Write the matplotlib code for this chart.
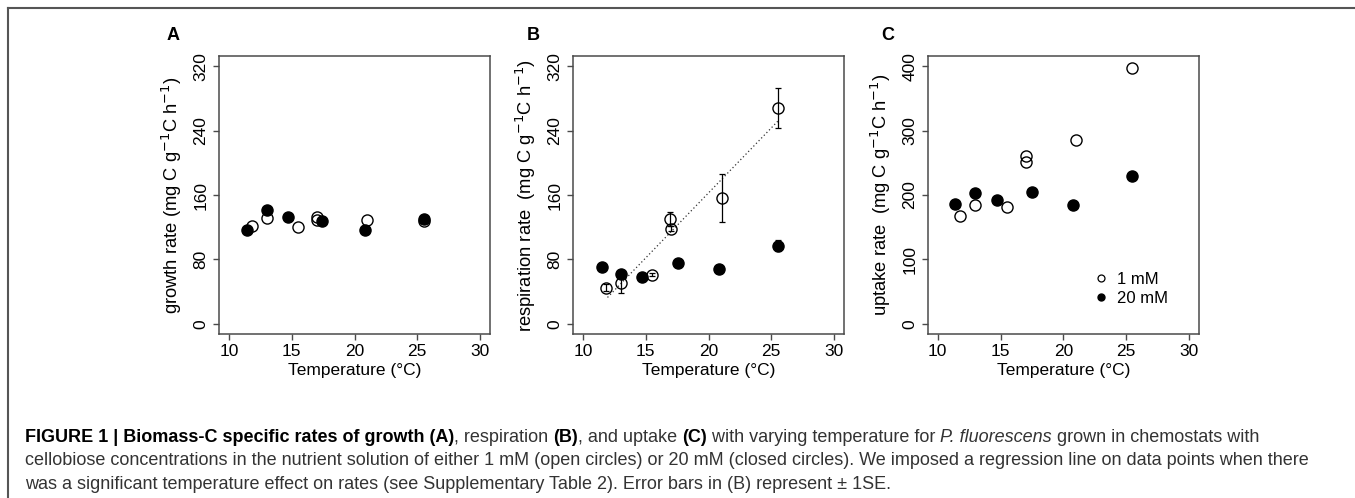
import matplotlib
matplotlib.use("Agg")
import matplotlib.pyplot as plt
from matplotlib.lines import Line2D
import numpy as np

plt.rcParams['font.family'] = ['Liberation Sans', 'DejaVu Sans']

# growth (A)
a_open_t = [11.8, 13.0, 15.5, 17.0, 17.0, 21.0, 25.5]
a_open_v = [122, 132, 120, 133, 129, 129, 128]
a_closed_t = [11.4, 13.0, 14.7, 17.4, 20.8, 25.5]
a_closed_v = [116, 141, 133, 128, 116, 130]

# respiration (B)
b_open_t = [11.8, 13.0, 15.5, 16.95, 17.0, 21.05, 25.55]
b_open_v = [45, 51, 61, 130, 118, 156, 268]
b_open_se = [4, 13, 2, 9, 3, 30, 25]
b_closed_t = [11.5, 13.0, 14.7, 17.55, 20.8, 25.55]
b_closed_v = [71, 62, 58, 76, 68, 97]
b_closed_se = [2, 3, 2, 5, 5, 7]

# uptake (C)
c_open_t = [11.8, 13.0, 15.5, 17.0, 17.0, 21.0, 25.5]
c_open_v = [167, 184, 181, 260, 252, 286, 397]
c_closed_t = [11.4, 13.0, 14.7, 17.5, 20.8, 25.5]
c_closed_v = [186, 203, 192, 205, 185, 229]

W, H = 1355, 498
fig = plt.figure(figsize=(W / 100, H / 100), dpi=100)

def px_axes(l, r, t, b):
    return fig.add_axes([l / W, 1 - b / H, (r - l) / W, (b - t) / H])

spine_col = '#4a4a4a'

def style(ax, ymax, ystep, ylabel):
    ax.set_xlim(10 - 0.8, 30 + 0.8)
    ax.set_ylim(-ymax * 0.04, ymax * 1.04)
    ax.set_xticks([10, 15, 20, 25, 30])
    ax.set_yticks(np.arange(0, ymax + 1, ystep))
    for s in ax.spines.values():
        s.set_color(spine_col)
        s.set_linewidth(1.1)
    ax.tick_params(direction='out', length=4.5, width=1, color=spine_col,
                   labelsize=12.5, pad=2.5)
    ax.tick_params(axis='y', pad=3)
    for lab in ax.get_yticklabels():
        lab.set_rotation(90)
        lab.set_va('center')
    ax.set_xlabel('Temperature (°C)', fontsize=12.5, labelpad=3)
    ax.set_ylabel(ylabel, fontsize=13.2, labelpad=7)

ms = 8
open_kw = dict(ls='none', marker='o', ms=ms, mfc='none', mec='black', mew=1.0)
closed_kw = dict(ls='none', marker='o', ms=ms, mfc='black', mec='black', mew=1.0)

axA = px_axes(219, 490, 56, 334)
axA.plot(a_open_t, a_open_v, **open_kw)
axA.plot(a_closed_t, a_closed_v, **closed_kw)
style(axA, 320, 80, r'growth rate (mg C g$^{-1}$C h$^{-1}$)')

axB = px_axes(573, 844, 56, 334)
fit = np.polyfit(b_open_t, b_open_v, 1)
xs = np.array([min(b_open_t) + 0.15, max(b_open_t)])
axB.plot(xs, np.polyval(fit, xs), ls=(0, (1, 2)), color='#333333', lw=0.9)
axB.errorbar(b_open_t, b_open_v, yerr=b_open_se, fmt='none', ecolor='black',
             elinewidth=0.9, capsize=2.5, capthick=0.9)
axB.errorbar(b_closed_t, b_closed_v, yerr=b_closed_se, fmt='none', ecolor='black',
             elinewidth=0.9, capsize=2.5, capthick=0.9)
axB.plot(b_open_t, b_open_v, **open_kw)
axB.plot(b_closed_t, b_closed_v, **closed_kw)
style(axB, 320, 80, r'respiration rate  (mg C g$^{-1}$C h$^{-1}$)')

axC = px_axes(927.7, 1199, 56, 334)
axC.plot(c_open_t, c_open_v, **open_kw)
axC.plot(c_closed_t, c_closed_v, **closed_kw)
style(axC, 400, 100, r'uptake rate  (mg C g$^{-1}$C h$^{-1}$)')
handles = [Line2D([], [], ls='none', marker='o', ms=5, mfc='none', mec='black', mew=0.9),
           Line2D([], [], ls='none', marker='o', ms=5, mfc='black', mec='black')]
axC.legend(handles, ['1 mM', '20 mM'], loc='upper left', bbox_to_anchor=(0.608, 0.222),
           frameon=False, fontsize=12, handlelength=1.0, handletextpad=0.45,
           borderpad=0, borderaxespad=0, labelspacing=0.2)

for lab, x in [('A', 173), ('B', 533), ('C', 888)]:
    fig.text(x / W, 1 - 35 / H, lab, fontsize=13, fontweight='bold',
             ha='center', va='center')

# frame of the page
fig.add_artist(Line2D([8 / W, 8 / W], [0, 1 - 8 / H], color='#555555', lw=1.5,
                      transform=fig.transFigure))
fig.add_artist(Line2D([8 / W, 1], [1 - 8 / H, 1 - 8 / H], color='#555555', lw=1.5,
                      transform=fig.transFigure))

# caption, written run by run
cap_lines = [
    [('FIGURE 1 | Biomass-C specific rates of growth (A)', 'bold', 'normal'),
     (', respiration ', 'normal', 'normal'), ('(B)', 'bold', 'normal'),
     (', and uptake ', 'normal', 'normal'), ('(C)', 'bold', 'normal'),
     (' with varying temperature for ', 'normal', 'normal'),
     ('P. fluorescens', 'normal', 'italic'),
     (' grown in chemostats with', 'normal', 'normal')],
    [('cellobiose concentrations in the nutrient solution of either 1 mM (open circles) '
      'or 20 mM (closed circles). We imposed a regression line on data points when there',
      'normal', 'normal')],
    [('was a significant temperature effect on rates (see Supplementary Table 2). '
      'Error bars in (B) represent \u00b1 1SE.', 'normal', 'normal')],
]
cap_y = [435, 458, 482]
renderer = fig.canvas.get_renderer()
for runs, y in zip(cap_lines, cap_y):
    x = 25
    for txt, wt, st in runs:
        col = 'black' if wt == 'bold' else '#333333'
        t = fig.text(x / W, 1 - y / H, txt, fontsize=13, fontweight=wt, fontstyle=st,
                     color=col, ha='left', va='center_baseline')
        bb = t.get_window_extent(renderer)
        x += bb.width

fig.savefig('out.png', dpi=100)
